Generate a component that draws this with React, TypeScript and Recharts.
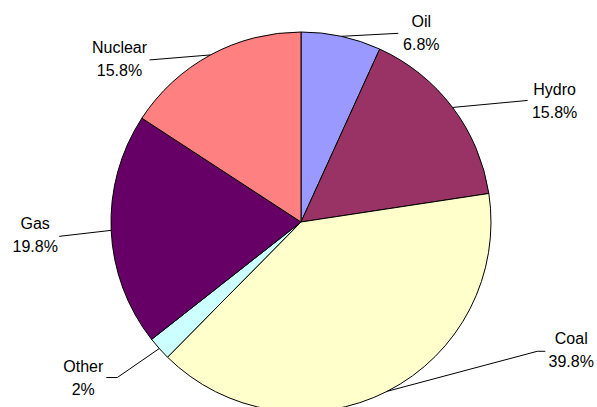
import { PieChart, Pie, Cell } from "recharts";

const sources = ["Oil", "Hydro", "Coal", "Other", "Gas", "Nuclear"];
const shares = [6.8, 15.8, 39.8, 2, 19.8, 15.8];
const shareLabels = ["6.8%", "15.8%", "39.8%", "2%", "19.8%", "15.8%"];

const colors = ["#9999FF", "#993366", "#FFFFCC", "#CCFFFF", "#660066", "#FF8080"];

// label placement relative to the slice edge point: leader bend, leader end, text anchor
const labelOffsets = [
  { bend: [57, -3], end: [57, -3], text: [80, -9] },
  { bend: [75, -7], end: [75, -7], text: [102, -12] },
  { bend: [150, -40], end: [158, -40], text: [184, -47] },
  { bend: [-42, 29], end: [-53, 29], text: [-76, 23] },
  { bend: [-52, 6], end: [-52, 6], text: [-76, -1] },
  { bend: [-61, 5], end: [-61, 5], text: [-91, -2] },
];

const data = sources.map((name, i) => ({ name, value: shares[i], label: shareLabels[i] }));

const RADIAN = Math.PI / 180;

// eslint-disable-next-line @typescript-eslint/no-explicit-any
function SliceLabel(props: any) {
  const { cx, cy, midAngle, outerRadius, index } = props;
  const ex = cx + outerRadius * Math.cos(-midAngle * RADIAN);
  const ey = cy + outerRadius * Math.sin(-midAngle * RADIAN);
  const o = labelOffsets[index];
  const tx = ex + o.text[0];
  const ty = ey + o.text[1];
  return (
    <g>
      <polyline
        points={`${ex},${ey} ${ex + o.bend[0]},${ey + o.bend[1]} ${ex + o.end[0]},${ey + o.end[1]}`}
        fill="none"
        stroke="#000"
        strokeWidth={1}
      />
      <text x={tx} y={ty} textAnchor="middle" fontSize={16} fill="#000" fontFamily="'Liberation Sans', Arial, sans-serif">
        {data[index].name}
      </text>
      <text x={tx} y={ty + 23} textAnchor="middle" fontSize={16} fill="#000" fontFamily="'Liberation Sans', Arial, sans-serif">
        {data[index].label}
      </text>
    </g>
  );
}

export default function App() {
  return (
    <div style={{ position: "absolute", left: 0, top: 0, width: 597, height: 407, background: "#fff", overflow: "hidden" }}>
      <PieChart width={597} height={407} margin={{ top: 0, right: 0, bottom: 0, left: 0 }}>
        <Pie
          data={data}
          dataKey="value"
          nameKey="name"
          cx={301}
          cy={222}
          outerRadius={190}
          startAngle={90}
          endAngle={-270}
          stroke="#000"
          strokeWidth={1}
          label={SliceLabel}
          labelLine={false}
          isAnimationActive={false}
        >
          {data.map((d, i) => (
            <Cell key={d.name} fill={colors[i]} />
          ))}
        </Pie>
      </PieChart>
    </div>
  );
}
